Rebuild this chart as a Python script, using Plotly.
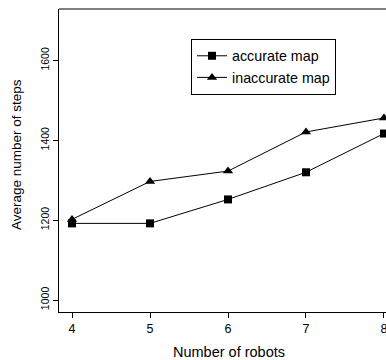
import plotly.graph_objects as go

robots = [4, 5, 6, 7, 8]
accurate = [1192, 1192, 1252, 1320, 1417]
inaccurate = [1202, 1297, 1323, 1421, 1456]
series_names = ["accurate map", "inaccurate map"]
x_ticks = [4, 5, 6, 7, 8]
y_ticks = [1000, 1200, 1400, 1600]

FONT = "Liberation Sans, Arial, sans-serif"
W, H = 386, 360
# plot box in pixels; the right side is cut by the picture edge, as in the reference
L, R, T, B = 59, 386, 9, 312
PW, PH = R - L, B - T

fig = go.Figure()
fig.add_trace(go.Scatter(
    x=robots, y=accurate, name=series_names[0], mode="lines+markers",
    line=dict(color="black", width=1),
    marker=dict(symbol="square", size=8, color="black"),
    cliponaxis=False,
))
fig.add_trace(go.Scatter(
    x=robots, y=inaccurate, name=series_names[1], mode="lines+markers",
    line=dict(color="black", width=1),
    marker=dict(symbol="triangle-up", size=9, color="black"),
    cliponaxis=False,
))

fig.update_layout(
    width=W, height=H,
    margin=dict(l=L, r=W - R, t=T, b=H - B, autoexpand=False),
    paper_bgcolor="white", plot_bgcolor="white",
    font=dict(family=FONT, color="black"),
    showlegend=True,
    legend=dict(
        x=(191 - L) / PW, y=1 - (39 - T) / PH, xanchor="left", yanchor="top",
        bordercolor="black", borderwidth=1, bgcolor="white",
        font=dict(size=14.3, family=FONT), itemwidth=30, tracegroupgap=0,
    ),
    xaxis=dict(
        range=[3.833, 8.026], tickvals=x_ticks, ticktext=[str(v) for v in x_ticks],
        showgrid=False, zeroline=False, showline=True, linecolor="black", linewidth=1,
        ticks="outside", ticklen=5, tickcolor="black", automargin=False,
        ticklabeloverflow="allow",
        tickfont=dict(size=12.5, family=FONT),
    ),
    yaxis=dict(
        range=[970, 1729], tickvals=y_ticks, ticktext=[str(v) for v in y_ticks],
        showgrid=False, zeroline=False, showline=True, linecolor="black", linewidth=1,
        ticks="outside", ticklen=5, tickcolor="black", tickangle=-90, automargin=False,
        tickfont=dict(size=10.5, family=FONT),
    ),
    shapes=[dict(type="line", xref="paper", yref="paper", x0=0, x1=1, y0=1, y1=1,
                 line=dict(color="black", width=1))],
    annotations=[
        dict(text="Number of robots", xref="paper", yref="paper",
             x=(229 - L) / PW, y=-(352 - B) / PH, xanchor="center", yanchor="middle",
             showarrow=False, font=dict(size=14.5, family=FONT)),
        dict(text="Average number of steps", xref="paper", yref="paper",
             x=-(L - 17) / PW, y=(B - 155) / PH, xanchor="center", yanchor="middle",
             textangle=-90, showarrow=False, font=dict(size=13.5, family=FONT)),
    ],
)

fig.write_html(
    "out.html",
    config={"displayModeBar": False},
    post_script="document.body.style.margin='0';document.documentElement.style.overflow='hidden';",
)
